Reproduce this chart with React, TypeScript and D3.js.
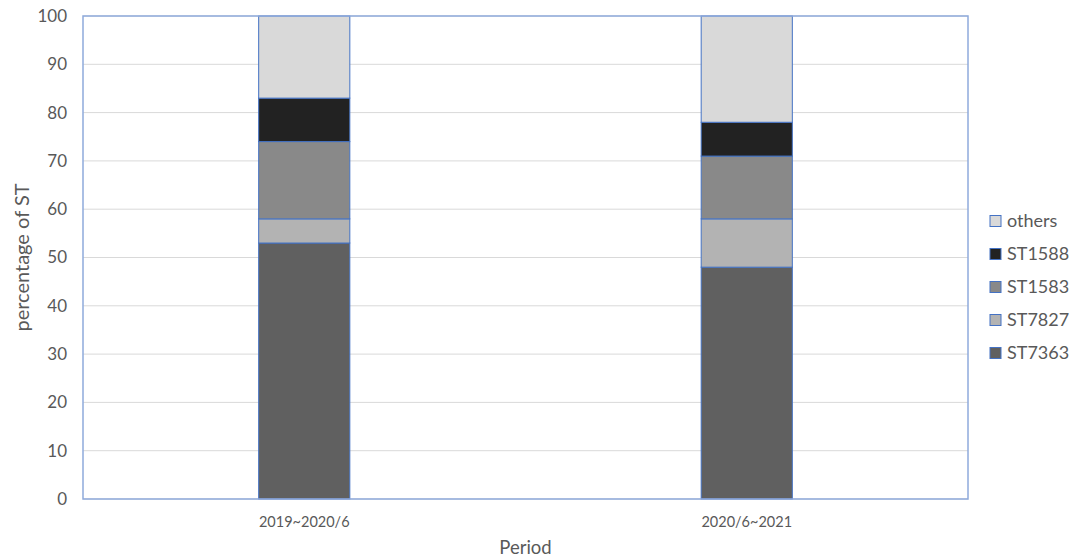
import React from "react";
import * as d3 from "d3";

// Periods on the x axis
const periods = ["2019~2020/6", "2020/6~2021"];
// Series, bottom to top in the stack
const seriesNames = ["ST7363", "ST7827", "ST1583", "ST1588", "others"];
const st7363 = [53, 48];
const st7827 = [5, 10];
const st1583 = [16, 13];
const st1588 = [9, 7];
const others = [17, 22];
const seriesColors = ["#606060", "#B3B3B3", "#898989", "#222222", "#D9D9D9"];
const yTicks = [0, 10, 20, 30, 40, 50, 60, 70, 80, 90, 100];

const W = 1075;
const H = 560;
const plot = { left: 83, right: 968, top: 16, bottom: 499 };
const FONT = "Lato, 'Open Sans', sans-serif";

export default function App() {
  const rows = periods.map((p, i) => ({
    period: p,
    ST7363: st7363[i],
    ST7827: st7827[i],
    ST1583: st1583[i],
    ST1588: st1588[i],
    others: others[i],
  }));
  const stacked = d3.stack<any>().keys(seriesNames)(rows);

  const x = d3.scaleBand().domain(periods).range([plot.left, plot.right]).padding(0);
  const y = d3.scaleLinear().domain([0, 100]).range([plot.bottom, plot.top]);
  const barW = x.bandwidth() * 0.206;

  return (
    <svg width={W} height={H} style={{ position: "absolute", left: 0, top: 0, background: "#fff" }}>
      <rect x={0} y={0} width={W} height={H} fill="#fff" />
      {/* gridlines */}
      {yTicks.map((t) => (
        <line key={t} x1={plot.left} x2={plot.right} y1={y(t)} y2={y(t)} stroke="#D9D9D9" strokeWidth={1} />
      ))}
      {/* y tick labels */}
      {yTicks.map((t) => (
        <text key={"l" + t} x={67} y={y(t)} dy="0.35em" textAnchor="end" fontSize={17} fill="#595959" fontFamily={FONT}>
          {t}
        </text>
      ))}
      {/* stacked bars */}
      {stacked.map((s, si) =>
        s.map((d, i) => {
          const cx = (x(periods[i]) as number) + x.bandwidth() / 2;
          return (
            <rect
              key={si + "-" + i}
              x={cx - barW / 2}
              y={y(d[1])}
              width={barW}
              height={y(d[0]) - y(d[1])}
              fill={seriesColors[si]}
              stroke="#4472C4"
              strokeWidth={1}
            />
          );
        })
      )}
      {/* plot frame */}
      <rect
        x={plot.left}
        y={plot.top}
        width={plot.right - plot.left}
        height={plot.bottom - plot.top}
        fill="none"
        stroke="#8FAADC"
        strokeWidth={1.5}
      />
      {/* x tick labels */}
      {periods.map((p) => (
        <text
          key={p}
          x={(x(p) as number) + x.bandwidth() / 2}
          y={522}
          dy="0.35em"
          textAnchor="middle"
          fontSize={14.5}
          fill="#595959"
          fontFamily={FONT}
        >
          {p}
        </text>
      ))}
      {/* axis titles */}
      <text x={(plot.left + plot.right) / 2} y={548} dy="0.35em" textAnchor="middle" fontSize={18.5} fill="#595959" fontFamily={FONT}>
        Period
      </text>
      <text
        transform={`translate(22, ${(plot.top + plot.bottom) / 2}) rotate(-90)`}
        dy="0.35em"
        textAnchor="middle"
        fontSize={20}
        fill="#595959"
        fontFamily={FONT}
      >
        percentage of ST
      </text>
      {/* legend, top entry is the top of the stack */}
      {seriesNames
        .slice()
        .reverse()
        .map((name, i) => {
          const cy = 221 + i * 33;
          const ci = seriesNames.indexOf(name);
          return (
            <g key={name}>
              <rect x={990} y={cy - 5.5} width={11} height={11} fill={seriesColors[ci]} stroke="#4472C4" strokeWidth={1} />
              <text x={1007} y={cy} dy="0.35em" fontSize={18} fill="#595959" fontFamily={FONT}>
                {name}
              </text>
            </g>
          );
        })}
    </svg>
  );
}
